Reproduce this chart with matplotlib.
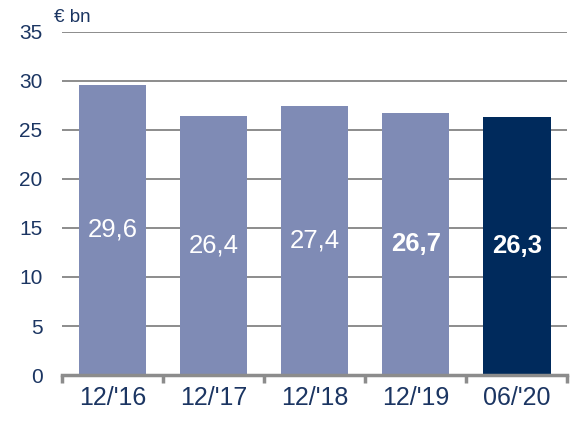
import matplotlib.pyplot as plt
import numpy as np

plt.rcParams['font.family'] = ['Liberation Sans', 'DejaVu Sans']

# data
periods = ["12/'16", "12/'17", "12/'18", "12/'19", "06/'20"]
values = [29.6, 26.4, 27.4, 26.7, 26.3]
labels = ["29,6", "26,4", "27,4", "26,7", "26,3"]
bold = [False, False, False, True, True]
colors = ["#7F8BB5", "#7F8BB5", "#7F8BB5", "#7F8BB5", "#002A5C"]

navy = "#1B3562"
grid_col = "#8C8C8C"

fig = plt.figure(figsize=(5.77, 4.21), dpi=100)
ax = fig.add_axes([0.1075, 0.109, 0.8755, 0.816])

x = np.arange(len(periods))
ax.set_axisbelow(True)
ax.yaxis.grid(True, color=grid_col, linewidth=1.4)
ax.bar(x, values, width=0.67, color=colors, zorder=2)

for i, v in enumerate(values):
    ax.text(i, v / 2, labels[i], ha="center", va="center", color="white",
            fontsize=18.5, fontweight="bold" if bold[i] else "normal", zorder=3)

ax.set_xlim(-0.5, len(periods) - 0.5)
ax.set_ylim(0, 35)
ax.set_yticks(range(0, 36, 5))
ax.set_xticks(x)
ax.set_xticklabels(periods)
ax.set_xticks(np.arange(-0.5, len(periods)), minor=True)

for s in ["top", "right", "left"]:
    ax.spines[s].set_visible(False)
ax.spines["bottom"].set_color(grid_col)
ax.spines["bottom"].set_linewidth(2.5)

ax.tick_params(axis="y", length=0, labelsize=15, labelcolor=navy, pad=14)
ax.tick_params(axis="x", which="major", length=0, labelsize=18, labelcolor=navy, pad=8)
ax.tick_params(axis="x", which="minor", length=6, width=2.5, color=grid_col, direction="out")

fig.text(54 / 577, 1 - 18 / 421, "€ bn", color=navy, fontsize=13.5, va="center", ha="left")

fig.savefig("out.png", dpi=100)
